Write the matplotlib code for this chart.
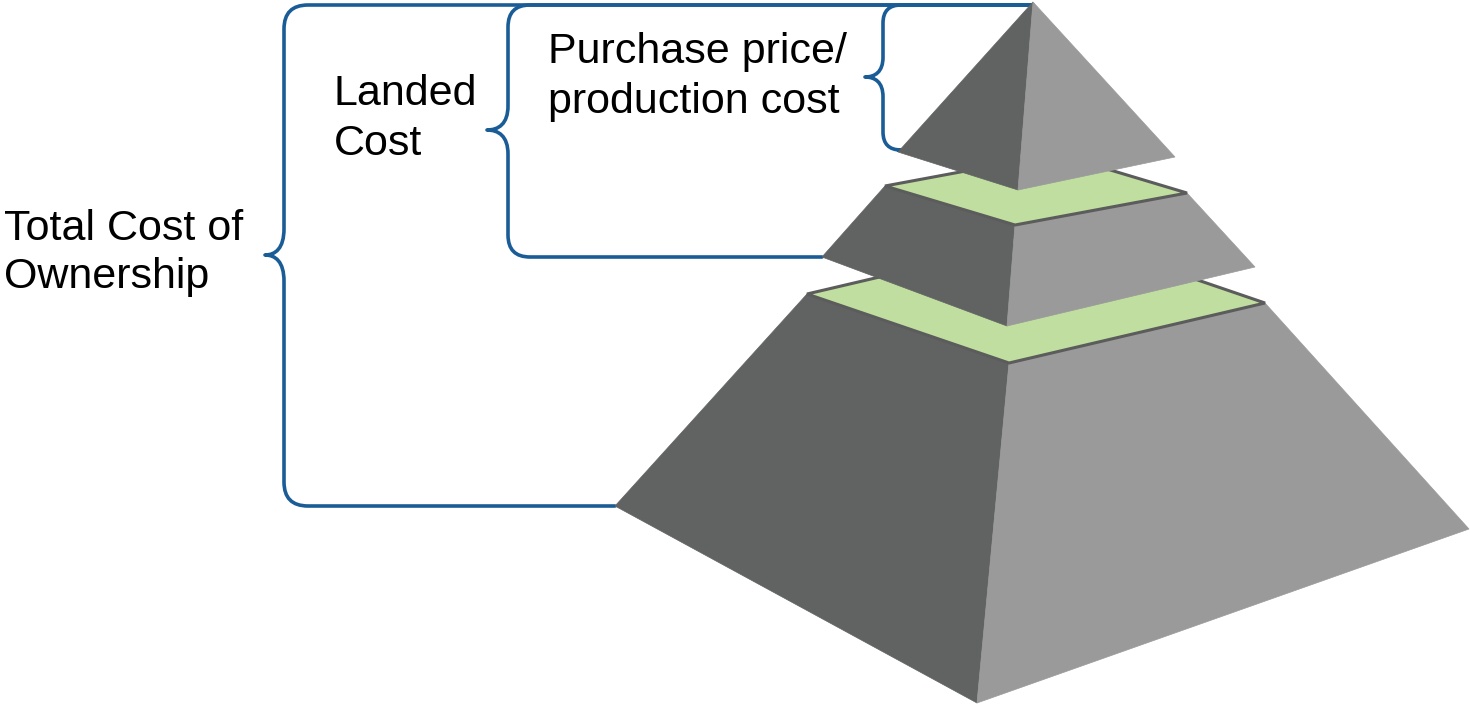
import matplotlib
matplotlib.use("Agg")
import matplotlib.pyplot as plt
from matplotlib.patches import Polygon, PathPatch
from matplotlib.path import Path

# Labels (one entry per brace, outermost first)
brace_labels = [["Total Cost of", "Ownership"],
                ["Landed", "Cost"],
                ["Purchase price/", "production cost"]]
label_x = [4, 334, 548]
label_baselines = [[240, 288], [105, 155], [63, 113]]

# Braces: vertical x, tip x, top y, tip y, bottom y, end x of bottom arm, corner radius
brace_vx = [284, 508, 883]
brace_tipx = [265, 487, 865]
brace_ytop = [5, 5, 5]
brace_ymid = [255, 130, 77]
brace_ybot = [506, 257, 150]
brace_endx = [615, 822, 898]
brace_r = [24, 22, 18]

# Pyramid tiers (image pixel coords): top corners [left, front, right], bottom corners [left, front, right]
apex = (1033, 2)
top_piece = [(898, 152), (1018, 190), (1175, 157)]
mid_top = [(885, 186), (1015, 225), (1187, 193)]
mid_bot = [(822, 257), (1007, 326), (1255, 267)]
low_top = [(807, 294), (1009, 363), (1265, 303)]
low_bot = [(615, 506), (977, 703), (1469, 529)]

DARK = "#616362"
LIGHT = "#9a9a9a"
GREEN = "#c0de9f"
EDGE = "#5c5c5c"
BLUE = "#1a5c96"

fig = plt.figure(figsize=(14.7, 7.07), dpi=100)
ax = fig.add_axes([0, 0, 1, 1])
ax.set_xlim(0, 1470)
ax.set_ylim(707, 0)
ax.axis("off")


def brace(vx, tipx, ytop, ymid, ybot, endx, r, topx):
    r2 = r * 1.1
    dx = vx - tipx
    verts = [(topx, ytop), (vx + r, ytop),
             (vx, ytop), (vx, ytop + r),
             (vx, ymid - r2),
             (vx, ymid - r2 * 0.25), (vx - dx * 0.45, ymid), (tipx, ymid),
             (vx - dx * 0.45, ymid), (vx, ymid + r2 * 0.25), (vx, ymid + r2),
             (vx, ybot - r),
             (vx, ybot), (vx + r, ybot),
             (endx, ybot)]
    codes = [Path.MOVETO, Path.LINETO,
             Path.CURVE3, Path.CURVE3,
             Path.LINETO,
             Path.CURVE4, Path.CURVE4, Path.CURVE4,
             Path.CURVE4, Path.CURVE4, Path.CURVE4,
             Path.LINETO,
             Path.CURVE3, Path.CURVE3,
             Path.LINETO]
    ax.add_patch(PathPatch(Path(verts, codes), fill=False, edgecolor=BLUE,
                           lw=2.6, capstyle="round", joinstyle="round", zorder=1))


for i in range(3):
    brace(brace_vx[i], brace_tipx[i], brace_ytop[i], brace_ymid[i], brace_ybot[i],
          brace_endx[i], brace_r[i], apex[0])


def tier(top, bot, z):
    tl, tf, tr = top
    bl, bf, br = bot
    back = (tl[0] + tr[0] - tf[0], tl[1] + tr[1] - tf[1])
    ax.add_patch(Polygon([tl, tf, bf, bl], closed=True, fc=DARK, ec=DARK, lw=0.5, zorder=z))
    ax.add_patch(Polygon([tf, tr, br, bf], closed=True, fc=LIGHT, ec=LIGHT, lw=0.5, zorder=z))
    ax.add_patch(Polygon([tl, tf, tr, back], closed=True, fc=GREEN, ec=EDGE, lw=2.2,
                         joinstyle="miter", zorder=z + 0.5))


tier(low_top, low_bot, 2)
tier(mid_top, mid_bot, 4)

pl, pf, pr = top_piece
ax.add_patch(Polygon([apex, pl, pf], closed=True, fc=DARK, ec=DARK, lw=0.5, zorder=6))
ax.add_patch(Polygon([apex, pf, pr], closed=True, fc=LIGHT, ec=LIGHT, lw=0.5, zorder=6))

for lines, x, ys in zip(brace_labels, label_x, label_baselines):
    for line, y in zip(lines, ys):
        ax.text(x, y, line, fontsize=31, family="Liberation Sans", color="black",
                ha="left", va="baseline", zorder=7)

fig.savefig("out.png", dpi=100)
